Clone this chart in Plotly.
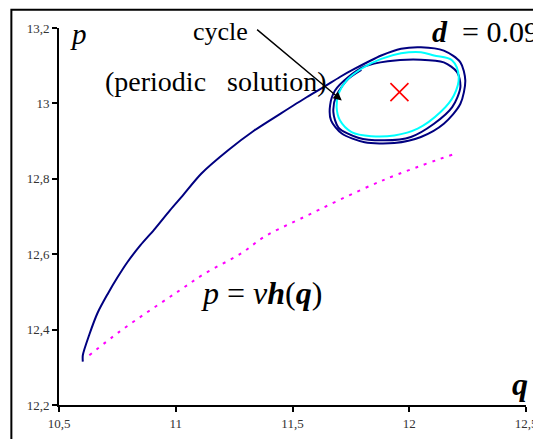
import plotly.graph_objects as go

# trajectory: approach, then two loops round the cycle
traj_q = [10.602, 10.602, 10.630, 10.665, 10.708, 10.750, 10.792, 10.849, 10.906,
          10.976, 11.025, 11.110, 11.223, 11.336, 11.449, 11.562, 11.633, 11.703,
          11.767, 11.880, 11.965, 12.050, 12.148, 12.219, 12.240, 12.219, 12.148,
          12.050, 11.936, 11.809, 11.711, 11.665, 11.661, 11.682, 11.739,
          11.809, 11.908, 12.050, 12.148, 12.205, 12.219, 12.184, 12.106, 12.007,
          11.894, 11.781, 11.697, 11.675, 11.688, 11.739, 11.795]
traj_p = [12.315, 12.332, 12.387, 12.444, 12.494, 12.538, 12.578, 12.624, 12.664,
          12.717, 12.752, 12.814, 12.875, 12.928, 12.973, 13.017, 13.043, 13.070,
          13.092, 13.127, 13.145, 13.149, 13.140, 13.109, 13.061, 12.999, 12.946,
          12.911, 12.895, 12.897, 12.920, 12.955, 12.995, 13.034, 13.070,
          13.098, 13.112, 13.116, 13.109, 13.083, 13.043, 12.990, 12.946, 12.911,
          12.902, 12.909, 12.936, 12.977, 13.021, 13.065, 13.089]

# periodic solution (cycle)
cycle_q = [12.106, 12.050, 11.965, 11.880, 11.795, 11.732, 11.697, 11.689, 11.703,
           11.753, 11.838, 11.936, 12.036, 12.134, 12.191, 12.212, 12.184, 12.106]
cycle_p = [13.127, 13.136, 13.133, 13.118, 13.092, 13.061, 13.026, 12.990, 12.955,
           12.924, 12.913, 12.915, 12.933, 12.977, 13.021, 13.070, 13.114, 13.127]

# p = v h(q)
h_q = [10.630, 10.758, 10.892, 11.019, 11.125, 11.280, 11.379, 11.534, 11.887, 12.198]
h_p = [12.332, 12.394, 12.452, 12.505, 12.549, 12.602, 12.646, 12.694, 12.796, 12.867]

# fixed point
fix_q = [11.958]
fix_p = [13.030]

serif = "Liberation Serif, Times New Roman, serif"

fig = go.Figure()
fig.add_trace(go.Scatter(x=traj_q, y=traj_p, mode="lines",
                         line=dict(color="#000080", width=2, shape="spline", smoothing=0.8)))
fig.add_trace(go.Scatter(x=cycle_q, y=cycle_p, mode="lines",
                         line=dict(color="#00FFFF", width=2, shape="spline", smoothing=1)))
fig.add_trace(go.Scatter(x=h_q, y=h_p, mode="lines",
                         line=dict(color="#FF00FF", width=2, dash="3px,6px", shape="spline")))
fig.add_trace(go.Scatter(x=fix_q, y=fix_p, mode="markers",
                         marker=dict(symbol="x-thin", size=18, line=dict(color="red", width=1.6))))

ann = [
    dict(x=10.585, y=13.183, text="<i>p</i>", font=dict(size=29)),
    dict(x=11.19, y=13.19, text="cycle", font=dict(size=26)),
    dict(x=11.173, y=13.058, text="(periodic&nbsp;&nbsp;&nbsp;solution)", font=dict(size=28)),
    dict(x=12.088, y=13.19, text="<b><i>d</i></b>&nbsp; = 0.09", xanchor="left", font=dict(size=30)),
    dict(x=11.367, y=12.497, text="<i>p</i> = <i>v</i><b><i>h</i></b>(<b><i>q</i></b>)", font=dict(size=32)),
    dict(x=12.476, y=12.255, text="<b><i>q</i></b>", font=dict(size=32)),
]
annotations = []
for a in ann:
    a.setdefault("showarrow", False)
    a["font"].update(family=serif, color="black")
    annotations.append(a)
annotations.append(dict(x=11.711, y=13.008, ax=11.342, ay=13.199, xref="x", yref="y",
                        axref="x", ayref="y", text="", showarrow=True,
                        arrowhead=2, arrowsize=1.2, arrowwidth=1.4, arrowcolor="black"))

# the page body has an 8px margin, so the margins are shifted to compensate
fig.update_layout(
    width=541, height=439,
    margin=dict(l=51, r=16, t=20, b=42),
    paper_bgcolor="white", plot_bgcolor="white",
    showlegend=False,
    separators=", ",
    font=dict(family=serif, size=13, color="#333"),
    annotations=annotations,
    shapes=[dict(type="rect", xref="paper", yref="paper",
                 x0=-0.102, x1=1.06, y0=-0.12, y1=1.0486,
                 line=dict(color="black", width=2), layer="below")],
)
fig.update_xaxes(range=[10.5, 12.5], tickvals=[10.5, 11, 11.5, 12, 12.5],
                 showgrid=False, zeroline=False, showline=True, linecolor="black",
                 linewidth=2, ticks="outside", ticklen=5, tickwidth=1.5, tickcolor="black")
fig.update_yaxes(range=[12.2, 13.2], tickvals=[12.2, 12.4, 12.6, 12.8, 13, 13.2],
                 showgrid=False, zeroline=False, showline=True, linecolor="black",
                 linewidth=2, ticks="outside", ticklen=5, tickwidth=1.5, tickcolor="black")

fig.write_html("out.html")
